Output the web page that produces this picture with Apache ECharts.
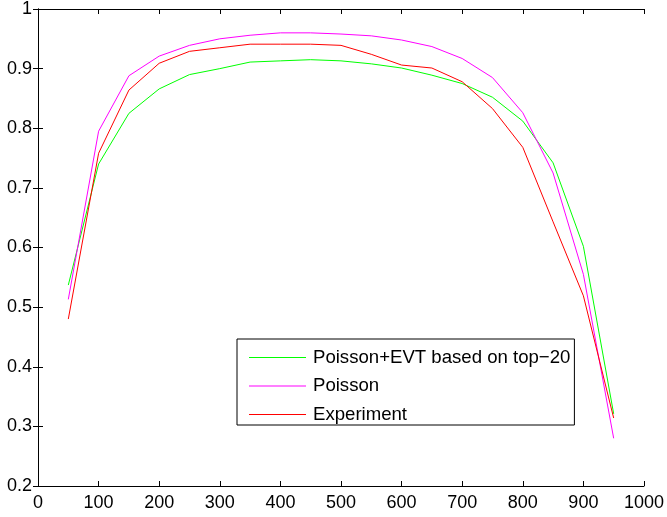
<!DOCTYPE html>
<html>
<head>
<meta charset="utf-8">
<script src="https://cdn.jsdelivr.net/npm/echarts@6/dist/echarts.min.js"></script>
<style>
  html, body { margin: 0; padding: 0; background: #fff; }
  #main { width: 667px; height: 517px; }
</style>
</head>
<body>
<div id="main"></div>
<script>
// x positions
var xValues = [50, 100, 150, 200, 250, 300, 350, 400, 450, 500, 550, 600, 650, 700, 750, 800, 850, 900, 950];

// Poisson+EVT based on top-20
var evtValues = [0.537, 0.740, 0.825, 0.866, 0.890, 0.900, 0.911, 0.913, 0.915, 0.913, 0.908, 0.901, 0.889, 0.875, 0.852, 0.812, 0.742, 0.602, 0.321];
// Poisson
var poissonValues = [0.513, 0.795, 0.888, 0.921, 0.939, 0.950, 0.956, 0.960, 0.960, 0.958, 0.955, 0.948, 0.937, 0.917, 0.885, 0.826, 0.725, 0.555, 0.280];
// Experiment
var expValues = [0.480, 0.758, 0.864, 0.909, 0.929, 0.935, 0.941, 0.941, 0.941, 0.939, 0.924, 0.906, 0.901, 0.878, 0.833, 0.768, 0.643, 0.519, 0.314];

var seriesNames = ['Poisson+EVT based on top\u221220', 'Poisson', 'Experiment'];

function pairs(vals) {
  return xValues.map(function(x, i) { return [x, vals[i]]; });
}

var font = 'Liberation Sans, Arial, Helvetica, sans-serif';

var tickStyle = { inside: true, length: 5, lineStyle: { color: '#000', width: 1 } };
var lineStyleAxis = { show: true, lineStyle: { color: '#000', width: 1 } };

var chart = echarts.init(document.getElementById('main'));
var option = {
  animation: false,
  backgroundColor: '#fff',
  grid: { left: 38, right: 22, top: 7, bottom: 31 },
  legend: {
    orient: 'vertical',
    left: 237,
    top: 339,
    icon: 'rect',
    itemWidth: 57,
    itemHeight: 1,
    itemGap: 9.5,
    padding: [9, 4, 1, 12],
    borderColor: '#000',
    borderWidth: 1,
    backgroundColor: '#fff',
    textStyle: { fontFamily: font, fontSize: 18.6, color: '#000', padding: [0, 0, 0, 2] },
    data: seriesNames
  },
  xAxis: [
    {
      type: 'value', min: 0, max: 1000, interval: 100,
      axisLine: lineStyleAxis, axisTick: tickStyle, splitLine: { show: false },
      axisLabel: {
        fontFamily: font, fontSize: 18, color: '#000', margin: 8,
        formatter: function(v) { return String(v); }
      }
    },
    {
      type: 'value', position: 'top', min: 0, max: 1000, interval: 100,
      axisLine: lineStyleAxis, axisTick: tickStyle, splitLine: { show: false },
      axisLabel: { show: false }
    }
  ],
  yAxis: [
    {
      type: 'value', min: 0.2, max: 1, interval: 0.1,
      axisLine: lineStyleAxis, axisTick: tickStyle, splitLine: { show: false },
      axisLabel: { fontFamily: font, fontSize: 18, color: '#000', margin: 6 }
    },
    {
      type: 'value', position: 'right', min: 0.2, max: 1, interval: 0.1,
      axisLine: lineStyleAxis, axisTick: tickStyle, splitLine: { show: false },
      axisLabel: { show: false }
    }
  ],
  series: [
    {
      name: seriesNames[0], type: 'line', symbol: 'none',
      lineStyle: { color: '#00ff00', width: 1 }, itemStyle: { color: '#00ff00' },
      data: pairs(evtValues)
    },
    {
      name: seriesNames[1], type: 'line', symbol: 'none',
      lineStyle: { color: '#ff00ff', width: 1 }, itemStyle: { color: '#ff00ff' },
      data: pairs(poissonValues)
    },
    {
      name: seriesNames[2], type: 'line', symbol: 'none',
      lineStyle: { color: '#ff0000', width: 1 }, itemStyle: { color: '#ff0000' },
      data: pairs(expValues)
    }
  ]
};
chart.setOption(option);
</script>
</body>
</html>
